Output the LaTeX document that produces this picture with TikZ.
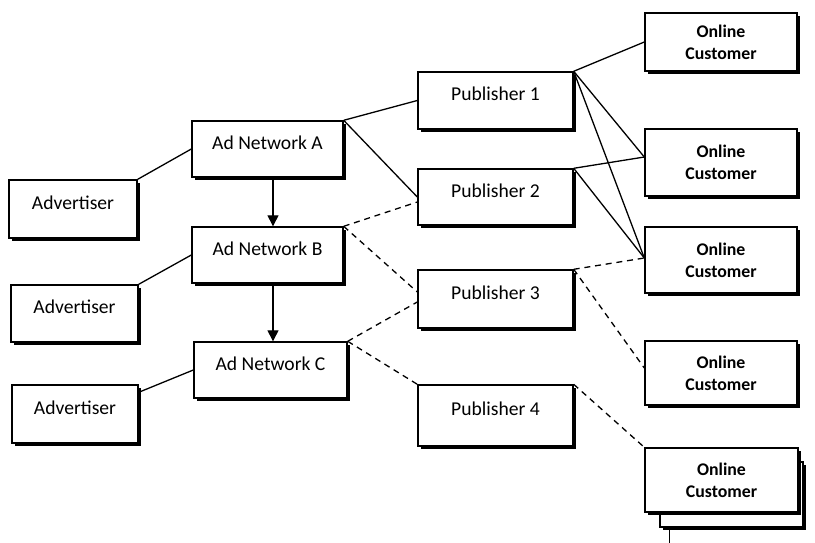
\documentclass[tikz,border=0pt]{standalone}
\usepackage{fontspec}
\setmainfont{Carlito}
\usetikzlibrary{shadows,arrows.meta}

\begin{document}
\begin{tikzpicture}[x=0.5pt,y=-0.5pt,
  card/.style={draw=black, line width=0.7pt, fill=white, inner sep=0pt,
    drop shadow={shadow xshift=1.7pt, shadow yshift=-1.7pt, opacity=1, fill=black}},
  sz/.style 2 args={minimum width=#1*0.5pt, minimum height=#2*0.5pt},
  onebox/.style={card, font=\fontsize{9.8}{12}\selectfont, text height=0pt, text depth=0pt},
  custbox/.style={card, align=center, font=\fontsize{8.9}{11}\selectfont\bfseries},
  link/.style={line width=0.65pt},
  weak/.style={link, dash pattern=on 3pt off 2.4pt},
  arrowtip/.style={-{Triangle[length=5.5pt,width=5.5pt]}},
]
\useasboundingbox (0,0) rectangle (815,542);

% advertisers
\node[onebox, sz={128}{58}] (adv1) at (73,209) {Advertiser};
\node[onebox, sz={127}{57}] (adv2) at (74.5,313.5) {Advertiser};
\node[onebox, sz={126}{58}] (adv3) at (75,414) {Advertiser};

% ad networks
\node[onebox, sz={151}{56}] (netA) at (267.5,149) {Ad Network A};
\node[onebox, sz={151}{56}] (netB) at (267.5,255) {Ad Network B};
\node[onebox, sz={153}{56}] (netC) at (270.5,370) {Ad Network C};

% publishers
\node[onebox, sz={155}{57}] (pub1) at (495.5,100.5) {Publisher 1};
\node[onebox, sz={155}{56}] (pub2) at (495.5,197) {Publisher 2};
\node[onebox, sz={155}{58}] (pub3) at (495.5,299) {Publisher 3};
\node[onebox, sz={155}{61}] (pub4) at (495.5,415.5) {Publisher 4};

% online customers
\node[custbox, sz={152}{58}] (cust1) at (721,42) {Online\\Customer};
\node[custbox, sz={152}{67}] (cust2) at (721,162.5) {Online\\Customer};
\node[custbox, sz={152}{66}] (cust3) at (721,260) {Online\\Customer};
\node[custbox, sz={152}{64}] (cust4) at (721,373) {Online\\Customer};

% stacked customer cards: the rearmost one only shows its left edge
\node[card, sz={143}{65}] (stackB) at (731.5,494.5) {};
\draw[line width=0.7pt] ([xshift=5pt]stackB.south west) -- ++(0,40);
\node[custbox, sz={153}{64}] (cust5) at (721.5,480) {Online\\Customer};

% advertisers to networks
\draw[link] (adv1.north east) -- (netA.west);
\draw[link] (adv2.north east) -- (netB.west);
\draw[link] ([yshift=-4pt]adv3.north east) -- (netC.west);

% network chain
\draw[link, arrowtip] ([xshift=2.75pt]netA.south) -- ([xshift=2.75pt]netB.north);
\draw[link, arrowtip] ([xshift=2.75pt]netB.south) -- ([xshift=1.25pt]netC.north);

% networks to publishers
\draw[link] (netA.north east) -- (pub1.west);
\draw[link] (netA.north east) -- (pub2.west);
\draw[weak] (netB.north east) -- ([yshift=-2.5pt]pub2.west);
\draw[weak] (netB.north east) -- ([yshift=3.5pt]pub3.west);
\draw[weak] (netC.north east) -- ([yshift=-1.5pt]pub3.west);
\draw[weak] (netC.north east) -- (pub4.north west);

% publishers to customers
\draw[link] (pub1.north east) -- (cust1.west);
\draw[link] (pub1.north east) -- ([yshift=2.75pt]cust2.west);
\draw[link] (pub1.north east) -- ([yshift=1pt]cust3.west);
\draw[link] (pub2.north east) -- ([yshift=2.75pt]cust2.west);
\draw[link] (pub2.north east) -- ([yshift=1pt]cust3.west);
\draw[weak] (pub3.north east) -- ([yshift=1pt]cust3.west);
\draw[weak] (pub3.north east) -- ([yshift=2.5pt]cust4.west);
\draw[weak] (pub4.north east) -- (cust5.north west);
\end{tikzpicture}
\end{document}
